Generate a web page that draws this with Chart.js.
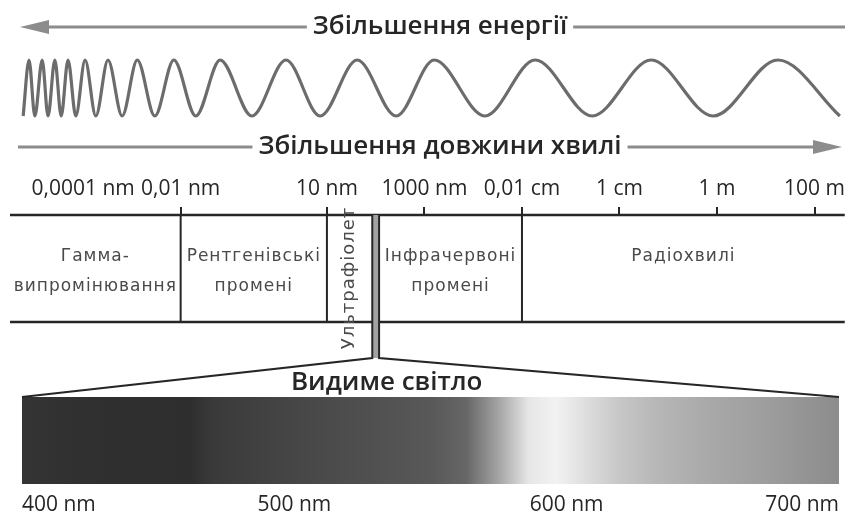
<!DOCTYPE html>
<html lang="uk">
<head>
<meta charset="utf-8">
<title>Електромагнітний спектр</title>
<script src="https://cdn.jsdelivr.net/npm/chart.js@4.4.1/dist/chart.umd.min.js"></script>
<style>
  html, body { margin: 0; padding: 0; background: #fff; }
  #wrap { width: 847px; height: 511px; position: relative; }
</style>
</head>
<body>
<div id="wrap"><canvas id="spectrum"></canvas></div>
<script>
// wavelength axis, values are exponents n of 10^n metres
const tickExp = [-13, -11, -8, -6, -4, -2, 0, 2];
const tickLabels = ['0,0001 nm', '0,01 nm', '10 nm', '1000 nm', '0,01 cm', '1 cm', '1 m', '100 m'];

// bands of the spectrum (edges)
const bandRange = [-14.5, 2.62];
const bandEdges = [-11, -8, -4];
const visibleBand = [-7.07, -6.93];
const regionNames = [
  ['Гамма-', 'випромінювання'],
  ['Рентгенівські', 'промені'],
  ['Ультрафіолет'],
  ['Інфрачервоні', 'промені'],
  ['Радіохвилі']
];

// crests/troughs of the drawn wave along the same axis, starts with a trough
const waveExtrema = [
  -14.23, -14.11, -13.99, -13.84, -13.72, -13.58, -13.45, -13.31, -13.15, -12.96,
  -12.74, -12.49, -12.20, -11.89, -11.53, -11.14, -10.69, -10.19, -9.54, -8.84,
  -8.14, -7.38, -6.58, -5.80, -4.76, -3.73, -2.56, -1.35, -0.08, 1.25, 2.52
];

// visible light strip
const visibleTicks = [400, 500, 600, 700];
const spectrumNm = [400, 430, 462, 470, 500, 550, 563, 575, 586, 596, 608, 620, 632, 650, 672, 700];
const spectrumShade = [52, 47, 46, 58, 70, 88, 102, 164, 230, 242, 220, 198, 184, 170, 158, 140];

// vertical layout of the picture (canvas px)
const ROWS = {
  energyArrow: 27, waveTop: 60, waveBottom: 116, lengthArrow: 147,
  bandTop: 215, bandBottom: 322, label1: 257, label2: 287, uv: 278,
  funnelTop: 358, lightTitle: 383, rectTop: 397, rectBottom: 484
};

const INK = '#262626';
const ARROW = '#8c8c8c';
const TITLE_FONT = '600 26px "Open Sans"';

const regionSpans = [
  [bandRange[0], bandEdges[0]],
  [bandEdges[0], bandEdges[1]],
  [bandEdges[1], visibleBand[0]],
  [visibleBand[1], bandEdges[2]],
  [bandEdges[2], bandRange[1]]
];

const datasets = [];

datasets.push({
  label: 'хвиля',
  data: waveExtrema.map((v, i) => ({ x: v, y: i % 2 === 0 ? ROWS.waveBottom : ROWS.waveTop })),
  borderColor: '#6c6c6c',
  borderWidth: 3.2,
  cubicInterpolationMode: 'monotone',
  pointRadius: 0,
  clip: false
});

[ROWS.bandTop, ROWS.bandBottom].forEach(row => {
  datasets.push({
    label: 'межа',
    data: bandRange.map(v => ({ x: v, y: row })),
    borderColor: INK,
    borderWidth: 2.5,
    pointRadius: 0,
    clip: false
  });
});

bandEdges.forEach(edge => {
  datasets.push({
    label: 'межа діапазону',
    data: [{ x: edge, y: ROWS.bandTop }, { x: edge, y: ROWS.bandBottom }],
    borderColor: INK,
    borderWidth: 2,
    pointRadius: 0
  });
});

datasets.push({
  label: 'Видиме світло',
  xAxisID: 'nm',
  data: [{ x: visibleTicks[0], y: ROWS.rectTop }, { x: visibleTicks[visibleTicks.length - 1], y: ROWS.rectTop }],
  borderWidth: 0,
  pointRadius: 0,
  fill: { value: ROWS.rectBottom },
  backgroundColor: (context) => {
    const chart = context.chart;
    if (!chart.chartArea) return '#888';
    const nm = chart.scales.nm;
    const a = nm.getPixelForValue(spectrumNm[0]);
    const b = nm.getPixelForValue(spectrumNm[spectrumNm.length - 1]);
    const g = chart.ctx.createLinearGradient(a, 0, b, 0);
    spectrumNm.forEach((w, i) => {
      const s = spectrumShade[i];
      g.addColorStop((nm.getPixelForValue(w) - a) / (b - a), `rgb(${s},${s},${s})`);
    });
    return g;
  }
});

function arrowHead(ctx, tipX, y, dir) {
  ctx.beginPath();
  ctx.moveTo(tipX, y);
  ctx.lineTo(tipX - dir * 29, y - 7);
  ctx.lineTo(tipX - dir * 29, y + 7);
  ctx.closePath();
  ctx.fill();
}

function labelOnLine(ctx, text, cx, y) {
  const w = ctx.measureText(text).width;
  ctx.fillStyle = '#fff';
  ctx.fillRect(cx - w / 2 - 6, y - 15, w + 12, 30);
  ctx.fillStyle = INK;
  ctx.fillText(text, cx, y);
}

// axis labels may overhang the edges; keep the plot as wide as the canvas
function noSidePadding(s) {
  s.paddingLeft = 0;
  s.paddingRight = 0;
}

const decor = {
  id: 'decor',
  afterDatasetsDraw(chart) {
    const { ctx, chartArea, scales: { x, y, nm } } = chart;
    const left = chartArea.left, right = chartArea.right;
    ctx.save();
    ctx.textAlign = 'center';
    ctx.textBaseline = 'middle';

    // energy arrow (to the left)
    let ay = y.getPixelForValue(ROWS.energyArrow);
    ctx.strokeStyle = ARROW;
    ctx.fillStyle = ARROW;
    ctx.lineWidth = 3;
    ctx.beginPath();
    ctx.moveTo(left + 40, ay);
    ctx.lineTo(right - 2, ay);
    ctx.stroke();
    arrowHead(ctx, left + 20, ay, -1);
    ctx.font = TITLE_FONT;
    labelOnLine(ctx, 'Збільшення енергії', 440, ay);

    // wavelength arrow (to the right)
    ay = y.getPixelForValue(ROWS.lengthArrow);
    ctx.strokeStyle = ARROW;
    ctx.fillStyle = ARROW;
    ctx.beginPath();
    ctx.moveTo(left + 18, ay);
    ctx.lineTo(right - 25, ay);
    ctx.stroke();
    arrowHead(ctx, right - 5, ay, 1);
    labelOnLine(ctx, 'Збільшення довжини хвилі', 440, ay);

    // visible light slot in the band and the funnel down to the strip
    const v0 = x.getPixelForValue(visibleBand[0]);
    const v1 = x.getPixelForValue(visibleBand[1]);
    const top = y.getPixelForValue(ROWS.bandTop);
    const fun = y.getPixelForValue(ROWS.funnelTop);
    const rt = y.getPixelForValue(ROWS.rectTop);
    ctx.fillStyle = '#a2a2a2';
    ctx.fillRect(v0, top, v1 - v0, fun - top);
    ctx.strokeStyle = INK;
    ctx.lineWidth = 2;
    ctx.beginPath();
    ctx.moveTo(v0, top); ctx.lineTo(v0, fun);
    ctx.lineTo(nm.getPixelForValue(visibleTicks[0]), rt);
    ctx.moveTo(v1, top); ctx.lineTo(v1, fun);
    ctx.lineTo(nm.getPixelForValue(visibleTicks[visibleTicks.length - 1]), rt);
    ctx.stroke();

    ctx.fillStyle = INK;
    ctx.font = TITLE_FONT;
    ctx.fillText('Видиме світло', (v0 + v1) / 2 + 11, y.getPixelForValue(ROWS.lightTitle));

    // band names
    ctx.fillStyle = '#4a4a4a';
    ctx.font = '17px "DejaVu Sans"';
    ctx.letterSpacing = '1px';
    regionNames.forEach((lines, i) => {
      const cx = (x.getPixelForValue(regionSpans[i][0]) + x.getPixelForValue(regionSpans[i][1])) / 2;
      if (i === 2) {
        ctx.save();
        ctx.translate(cx, y.getPixelForValue(ROWS.uv));
        ctx.rotate(-Math.PI / 2);
        ctx.font = '18px "DejaVu Sans"';
        ctx.fillText(lines[0], 0, 0);
        ctx.restore();
        return;
      }
      lines.forEach((t, k) => {
        ctx.fillText(t, cx, y.getPixelForValue(k === 0 ? ROWS.label1 : ROWS.label2));
      });
    });
    ctx.restore();
  }
};

new Chart(document.getElementById('spectrum'), {
  type: 'scatter',
  data: { datasets: datasets.map(d => Object.assign({ showLine: true, fill: false }, d)) },
  options: {
    responsive: true,
    maintainAspectRatio: false,
    animation: false,
    layout: { padding: 0, autoPadding: false },
    plugins: { legend: { display: false }, tooltip: { enabled: false } },
    scales: {
      x: {
        type: 'linear',
        position: 'top',
        min: -14.705,
        max: 2.666,
        afterBuildTicks: (s) => { s.ticks = tickExp.map(v => ({ value: v })); },
        afterFit: (s) => { s.height = ROWS.bandTop; noSidePadding(s); },
        border: { display: false },
        grid: {
          drawOnChartArea: false,
          tickLength: 8,
          lineWidth: 2,
          color: (c) => c.index === 0 ? 'rgba(0,0,0,0)' : INK
        },
        ticks: {
          autoSkip: false,
          maxRotation: 0,
          padding: 5,
          color: INK,
          font: { family: 'Open Sans', size: 21 },
          callback: (v, i) => tickLabels[i]
        }
      },
      nm: {
        type: 'linear',
        axis: 'x',
        position: 'bottom',
        min: 391.92,
        max: 702.94,
        afterBuildTicks: (s) => { s.ticks = visibleTicks.map(v => ({ value: v })); },
        afterFit: (s) => { s.height = 511 - ROWS.rectBottom; noSidePadding(s); },
        border: { display: false },
        grid: { display: false },
        ticks: {
          align: 'inner',
          autoSkip: false,
          maxRotation: 0,
          padding: 0,
          color: INK,
          font: { family: 'Open Sans', size: 21 },
          callback: (v) => v + ' nm'
        }
      },
      y: {
        type: 'linear',
        display: false,
        reverse: true,
        min: ROWS.bandTop,
        max: ROWS.rectBottom
      }
    }
  },
  plugins: [decor]
});
</script>
</body>
</html>
